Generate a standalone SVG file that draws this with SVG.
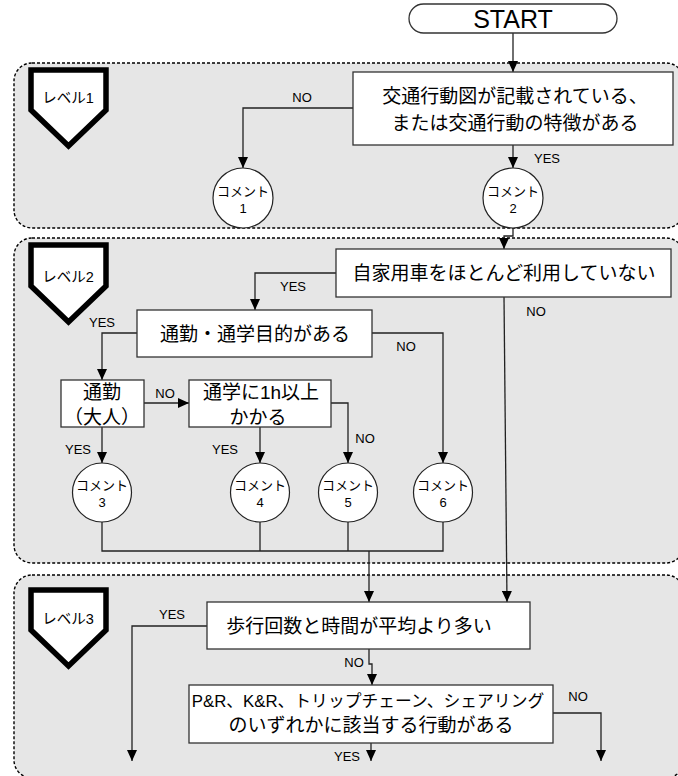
<svg xmlns="http://www.w3.org/2000/svg" width="678" height="776" viewBox="0 0 678 776">
<defs>
<marker id="arr" markerUnits="userSpaceOnUse" markerWidth="11" markerHeight="10" refX="11" refY="5" orient="auto">
<path d="M0,0 L11,5 L0,10 Z" fill="#000"/>
</marker>
<style>
.panel{fill:#e6e6e6;stroke:#000;stroke-width:1.4;stroke-dasharray:3 2}
.badge{fill:#fff;stroke:#000;stroke-width:5.5;stroke-linejoin:miter}
.box{fill:#fff;stroke:#333;stroke-width:1.3}
.circ{fill:#fff;stroke:#222;stroke-width:1.2}
.t{font-family:"Liberation Sans","Noto Sans CJK JP",sans-serif;fill:#000;text-anchor:middle}
.big{font-size:19px}
.mid{font-size:16.8px}
.lv{font-size:14.5px}
.cm{font-size:13px}
.lb{font-size:13px}
.st{font-size:25px}
.c{fill:none;stroke:#222;stroke-width:1.3}
.ca{fill:none;stroke:#222;stroke-width:1.3;marker-end:url(#arr)}
</style>
</defs>

<g id="panels">
<rect class="panel" x="14" y="63" width="670" height="165" rx="18"/>
<rect class="panel" x="14" y="238" width="670" height="325" rx="18"/>
<rect class="panel" x="14" y="575" width="670" height="203" rx="18"/>
</g>

<g id="level1">
<path class="badge" d="M31,70 H106 V110 L68.5,146 L31,110 Z"/>
<text class="t lv" x="68" y="103">レベル1</text>
</g>
<g id="level2">
<path class="badge" d="M31,245 H106 V286 L68.5,322 L31,286 Z"/>
<text class="t lv" x="68" y="282">レベル2</text>
</g>
<g id="level3">
<path class="badge" d="M31,590 H106 V630 L68.5,666 L31,630 Z"/>
<text class="t lv" x="68" y="624">レベル3</text>
</g>

<g id="connectors">
<path class="ca" d="M513,33 V72"/>
<path class="ca" d="M353,108 H243 V168"/>
<path class="ca" d="M513,145 V168"/>
<path class="ca" d="M513,228 V236 H504 V249"/>
<path class="ca" d="M336,273 H255 V310"/>
<path class="ca" d="M504,297 L507,602"/>
<path class="ca" d="M137,333 H102 V380"/>
<path class="ca" d="M372,333 H443 V463"/>
<path class="ca" d="M102,427 V463"/>
<path class="ca" d="M144,403 H189"/>
<path class="ca" d="M260,427 V463"/>
<path class="ca" d="M331,403 H348 V463"/>
<path class="c" d="M102,522 V551 H443 V522 M260,522 V551 M348,522 V551"/>
<path class="ca" d="M369,551 V602"/>
<path class="ca" d="M207,626 H132 V761"/>
<path class="ca" d="M369,649 V664 H372 V685"/>
<path class="ca" d="M553,713 H601 V761"/>
<path class="ca" d="M371,743 V761"/>
</g>

<g id="labels">
<text class="t lb" x="302" y="102">NO</text>
<text class="t lb" x="547" y="163">YES</text>
<text class="t lb" x="293" y="291">YES</text>
<text class="t lb" x="536" y="316">NO</text>
<text class="t lb" x="102" y="327">YES</text>
<text class="t lb" x="406" y="351">NO</text>
<text class="t lb" x="165" y="398">NO</text>
<text class="t lb" x="78" y="454">YES</text>
<text class="t lb" x="225" y="454">YES</text>
<text class="t lb" x="365" y="443">NO</text>
<text class="t lb" x="172" y="619">YES</text>
<text class="t lb" x="354" y="667">NO</text>
<text class="t lb" x="578" y="701">NO</text>
<text class="t lb" x="347" y="761">YES</text>
</g>

<g id="start">
<rect class="box" x="409" y="4" width="208" height="29" rx="14.5"/>
<text class="t st" x="513" y="28">START</text>
</g>

<g id="q1">
<rect class="box" x="353" y="72" width="320" height="73"/>
<text class="t big" x="515" y="103">交通行動図が記載されている、</text>
<text class="t big" x="515" y="130">または交通行動の特徴がある</text>
</g>

<g id="c1">
<circle class="circ" cx="243" cy="198" r="30"/>
<text class="t cm" x="243" y="196">コメント</text>
<text class="t cm" x="243" y="213">1</text>
</g>
<g id="c2">
<circle class="circ" cx="513" cy="198" r="30"/>
<text class="t cm" x="513" y="196">コメント</text>
<text class="t cm" x="513" y="213">2</text>
</g>

<g id="q2">
<rect class="box" x="336" y="249" width="335" height="48"/>
<text class="t big" x="504" y="280">自家用車をほとんど利用していない</text>
</g>

<g id="q3">
<rect class="box" x="137" y="310" width="235" height="47"/>
<text class="t big" x="255" y="341">通勤・通学目的がある</text>
</g>

<g id="q4">
<rect class="box" x="61" y="380" width="83" height="47"/>
<text class="t big" x="102" y="399">通勤</text>
<text class="t big" x="102" y="424">（大人）</text>
</g>

<g id="q5">
<rect class="box" x="189" y="380" width="142" height="47"/>
<text class="t big" x="261" y="399">通学に1h以上</text>
<text class="t big" x="258" y="424">かかる</text>
</g>

<g id="c3">
<circle class="circ" cx="102" cy="492.5" r="29.5"/>
<text class="t cm" x="102" y="490">コメント</text>
<text class="t cm" x="102" y="507">3</text>
</g>
<g id="c4">
<circle class="circ" cx="260" cy="492.5" r="29.5"/>
<text class="t cm" x="260" y="490">コメント</text>
<text class="t cm" x="260" y="507">4</text>
</g>
<g id="c5">
<circle class="circ" cx="348" cy="492.5" r="29.5"/>
<text class="t cm" x="348" y="490">コメント</text>
<text class="t cm" x="348" y="507">5</text>
</g>
<g id="c6">
<circle class="circ" cx="443" cy="492.5" r="29.5"/>
<text class="t cm" x="443" y="490">コメント</text>
<text class="t cm" x="443" y="507">6</text>
</g>

<g id="q6">
<rect class="box" x="207" y="602" width="323" height="47"/>
<text class="t big" x="359" y="633">歩行回数と時間が平均より多い</text>
</g>

<g id="q7">
<rect class="box" x="189" y="685" width="364" height="58"/>
<text class="t mid" x="368" y="707">P&amp;R、K&amp;R、トリップチェーン、シェアリング</text>
<text class="t big" x="371" y="732">のいずれかに該当する行動がある</text>
</g>
</svg>
